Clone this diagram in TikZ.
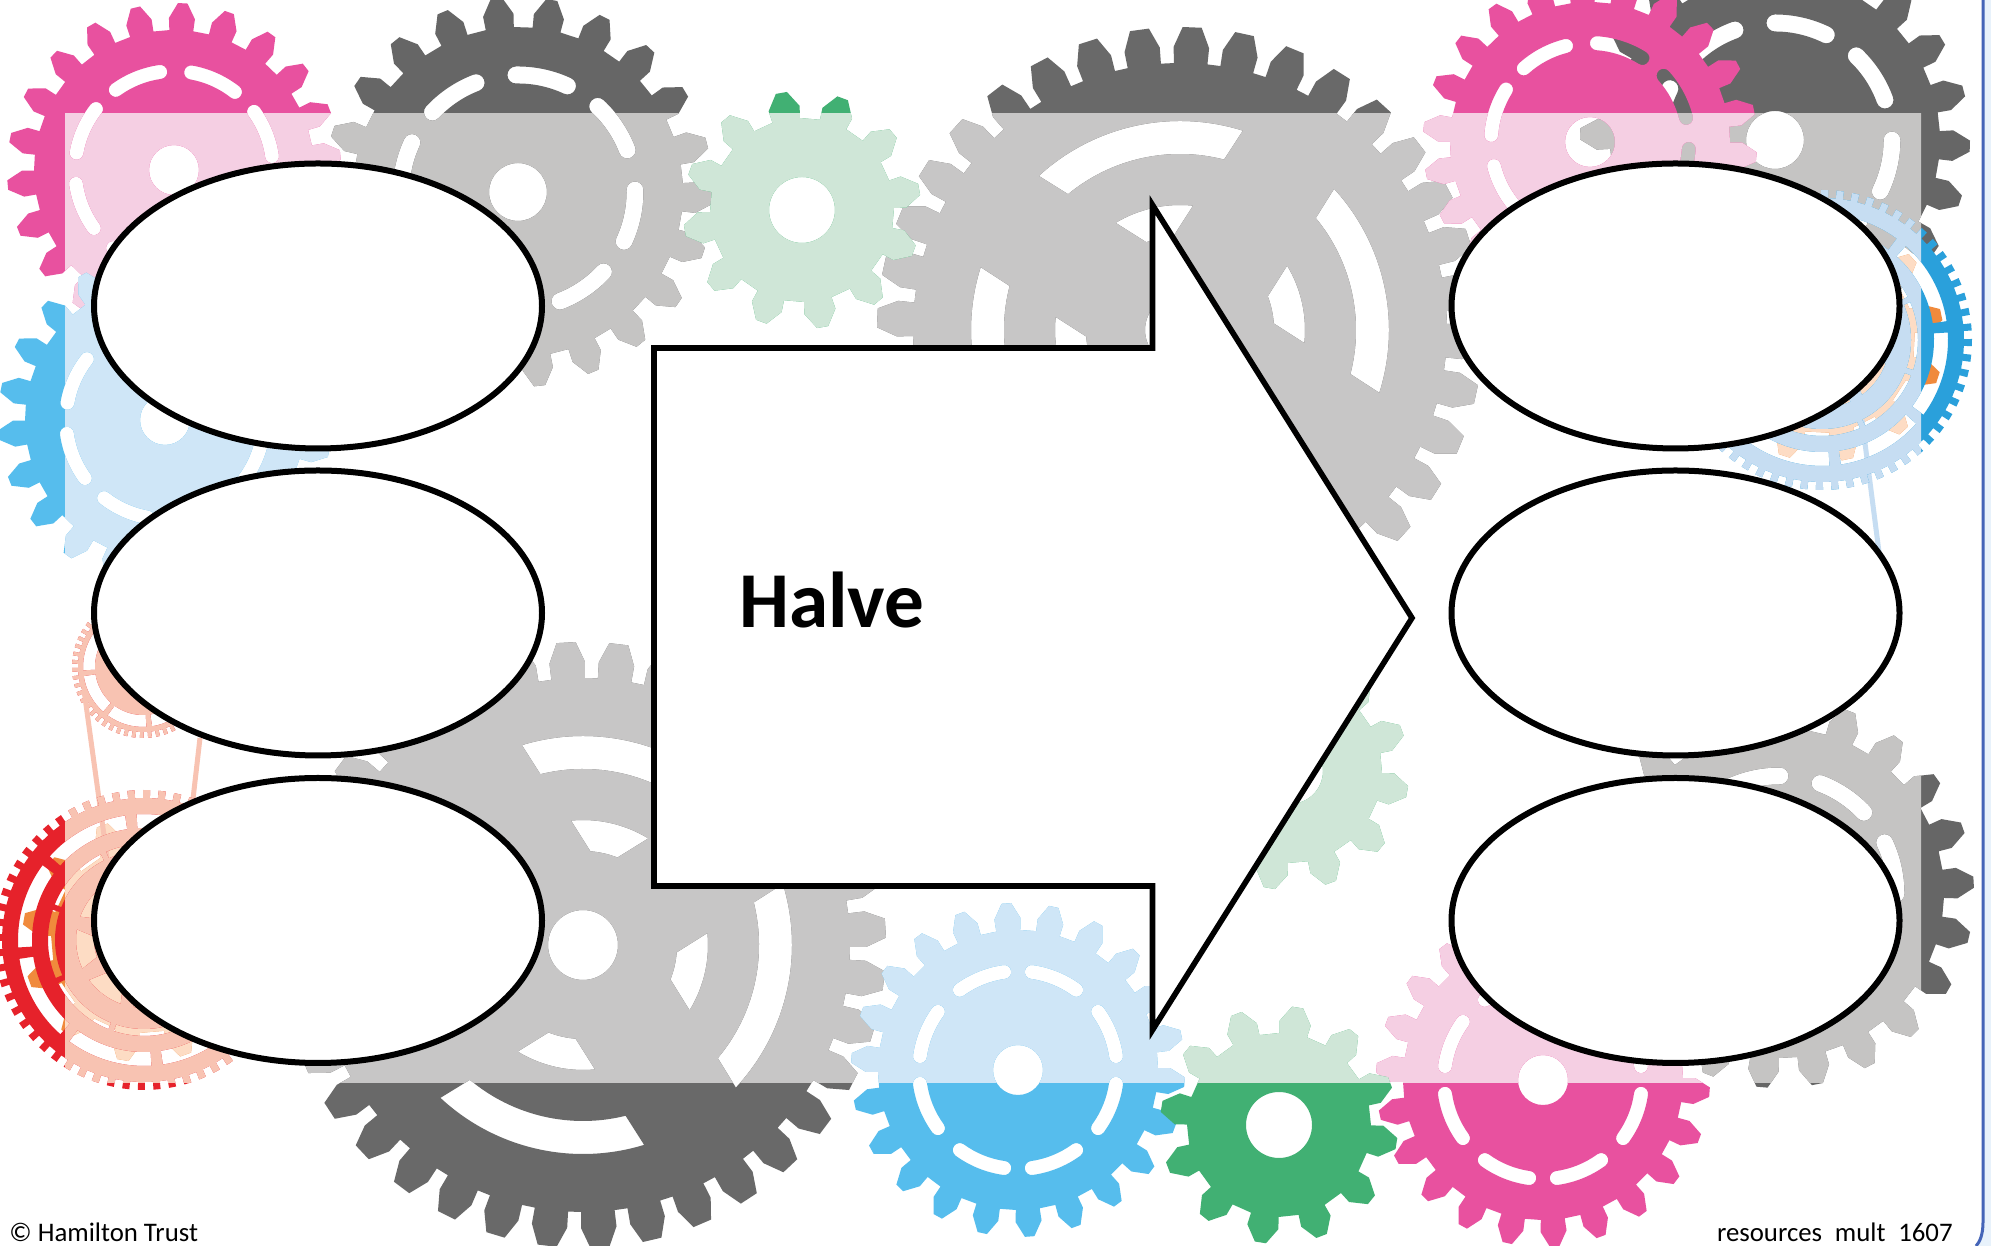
\documentclass[tikz,border=0pt]{standalone}
\usepackage{fontspec}
\setmainfont{Carlito}
\usetikzlibrary{shapes.geometric}
\definecolor{pinkD}{HTML}{E8519F}\definecolor{pinkL}{HTML}{F5CFE3}
\definecolor{greyD}{HTML}{666666}\definecolor{greyL}{HTML}{C5C4C3}
\definecolor{greyDb}{HTML}{696969}\definecolor{greyLb}{HTML}{C7C6C6}
\definecolor{blueD}{HTML}{56BDED}\definecolor{blueL}{HTML}{CFE6F7}
\definecolor{greenD}{HTML}{41B073}\definecolor{greenL}{HTML}{CFE6D7}
\definecolor{redD}{HTML}{E6222B}\definecolor{redL}{HTML}{F8C3B2}
\definecolor{wblueD}{HTML}{2AA0DB}\definecolor{wblueL}{HTML}{C6DDF2}
\definecolor{orD}{HTML}{F08A3C}\definecolor{orL}{HTML}{FDDCC4}
\definecolor{edgeB}{HTML}{4565B8}\definecolor{edgeL}{HTML}{E8F2FB}
\newcommand\setteeth[6]{\def\gR{#1}\def\gr{#2}\def\gn{#3}\def\goff{#4}\def\gb{#5}\def\gt{#6}%
  \pgfmathsetmacro\gp{360/#3}\pgfmathsetmacro\gs{#2+.45*(#1-#2)}}
\newcommand\teethpath{({90-\goff+\gb*\gp}:\gr)
  \foreach \k [evaluate=\k as \ta using {90-\goff-(\k-1)*\gp}] in {1,...,\gn}{
    -- ({\ta+\gb*\gp}:\gr) -- ({\ta+\gb*\gp}:\gs) -- ({\ta+\gt*\gp}:\gR)
    -- ({\ta-\gt*\gp}:\gR) -- ({\ta-\gb*\gp}:\gs) -- ({\ta-\gb*\gp}:\gr)} -- cycle}
% rounded dashes, in pairs
\newcommand\dashes{\foreach \c [evaluate=\c as \aone using {90-\gphi-\c-\ghs},
    evaluate=\c as \atwo using {90-\gphi-\c+\ghs}] in {0,44,90,134,180,224,270,314}{
    (\aone:{\gsr+\gw}) arc[start angle=\aone,end angle=\atwo,radius={\gsr+\gw}]
    arc[start angle=\atwo,end angle={\atwo+180},radius=\gw]
    arc[start angle=\atwo,end angle=\aone,radius={\gsr-\gw}]
    arc[start angle={\aone+180},end angle={\aone+360},radius=\gw] -- cycle}}
% ring segments: outer r, outer half angle, inner r, inner half angle, first centre, last index, pitch
\newcommand\wedges[7]{\foreach \k [evaluate=\k as \ac using {90-(#5)-\k*(#7)}] in {0,...,#6}{
    ({\ac-(#2)}:#1) arc[start angle={\ac-(#2)},end angle={\ac+(#2)},radius=#1]
    -- ({\ac+(#4)}:#3) arc[start angle={\ac+(#4)},end angle={\ac-(#4)},radius=#3] -- cycle}}
\newcommand\paint[4]{%
  \begin{scope}[shift={(#1,{1246-#2})}]\fill[#3,even odd rule] \teethpath \extras;\end{scope}
  \begin{scope}\clip (65,163) rectangle (1921,1132);
  \begin{scope}[shift={(#1,{1246-#2})}]\fill[#4,even odd rule] \teethpath \extras;\end{scope}\end{scope}}
% cx cy toothoffset phi dark light
\newcommand\pinkgear[6]{\setteeth{167}{140}{22}{#3}{.3}{.1}%
  \def\gphi{#4}\def\gsr{99}\def\gw{7}\def\ghs{14}%
  \def\extras{(0,0) circle[radius=25] \dashes}\paint{#1}{#2}{#5}{#6}}
\newcommand\darkgear[4]{\setteeth{195}{165}{22}{#3}{.3}{.1}%
  \def\gphi{#4}\def\gsr{117}\def\gw{8.5}\def\ghs{13}%
  \def\extras{(0,0) circle[radius=29] \dashes}\paint{#1}{#2}{greyD}{greyL}}
\newcommand\greengear[3]{\setteeth{119}{92}{12}{#3}{.29}{.09}%
  \def\extras{(0,0) circle[radius=33]}\paint{#1}{#2}{greenD}{greenL}}
\newcommand\biggear[4]{\setteeth{303}{267}{36}{#3}{.36}{.18}%
  \def\extras{(0,0) circle[radius=35] \wedges{209}{30}{176}{27}{#4}{3}{90} \wedges{125}{18.5}{94}{8.5}{#4}{3}{90}}%
  \paint{#1}{#2}{greyDb}{greyLb}}
\newcommand\wheelgear[4]{\setteeth{150}{142}{60}{1}{.23}{.23}%
  \def\extras{(0,0) circle[radius=25] \wedges{126}{19.9}{112}{19.9}{61.5}{7}{45}
     \wedges{96}{20.8}{89}{20.8}{42.5}{7}{45} \wedges{68}{17}{50}{12}{37}{7}{45}}%
  \paint{#1}{#2}{#3}{#4}}
\newcommand\minigear[4]{\setteeth{71}{65}{54}{1}{.23}{.23}%
  \def\extras{(0,0) circle[radius=14] \wedges{60}{19.8}{48}{19.8}{61.5}{7}{45}}%
  \paint{#1}{#2}{#3}{#4}}
\newcommand\ongear[3]{\setteeth{122}{93}{12}{#3}{.25}{.09}%
  \def\extras{(0,0) circle[radius=30]}\paint{#1}{#2}{orD}{orL}}
\tikzset{
  bubble/.style={ellipse,draw=black,fill=white,line width=3pt,inner sep=0pt,
    minimum width=224pt,minimum height=142.5pt},
  belt/.style={line width=2.5pt}
}
\begin{document}
\begin{tikzpicture}[x=0.5pt,y=0.5pt]
\useasboundingbox (0,0) rectangle (1991,1246);
\fill[white] (0,0) rectangle (1991,1246);
\begin{scope}
\clip (0,0) rectangle (1991,1246);
% grey gears
\darkgear{518}{192}{10}{12}
\darkgear{1775}{140}{10}{13}
\darkgear{1779}{893}{5}{33.5}
\biggear{1180}{330}{2.3}{-12.5}
\biggear{583}{945}{6.8}{13}
% coloured gears
\pinkgear{174}{170}{3}{24}{pinkD}{pinkL}
\pinkgear{165}{420}{3}{24}{blueD}{blueL}
\pinkgear{1018}{1070}{-4}{-22}{blueD}{blueL}
\pinkgear{1543}{1080}{-4}{-22}{pinkD}{pinkL}
\pinkgear{1590}{142}{-3}{18}{pinkD}{pinkL}
\greengear{802}{210}{-10}
\greengear{1279}{1125}{9}
\greengear{1290}{771}{10}
% belt wheels
\ongear{144}{940}{10}
\minigear{143}{667}{redD}{redL}
\draw[belt,redL] (84,{1246-690}) -- (107,{1246-857});
\draw[belt,redL] (200,{1246-738}) -- (186,{1246-860});
\wheelgear{144}{940}{redD}{redL}
\ongear{1822}{340}{18}
\draw[belt,wblueL] (1862,{1246-420}) -- (1880,{1246-560});
\wheelgear{1822}{340}{wblueD}{wblueL}
% page edge
\fill[edgeL] (1983,1246) -- (1983,24) .. controls (1983,12) and (1980,4) .. (1976,0) -- (1991,0) -- (1991,1246) -- cycle;
\draw[edgeB,line width=1.5pt] (1983,1246) -- (1983,24) .. controls (1983,12) and (1980,4) .. (1976,0);
\end{scope}
% arrow
\draw[black,fill=white,line width=2.8pt,miter limit=10]
  (654,{1246-348}) -- (1152.5,{1246-348}) -- (1152.5,{1246-205}) -- (1412,{1246-618})
  -- (1152.5,{1246-1030}) -- (1152.5,{1246-886}) -- (654,{1246-886}) -- cycle;
% ovals
\node[bubble] (a1) at (318,940) {};
\node[bubble] (a2) at (318,633) {};
\node[bubble] (a3) at (318,325.5) {};
\node[bubble] (b1) at (1675.5,940) {};
\node[bubble] (b2) at (1675.5,633) {};
\node[bubble] (b3) at (1675.5,325.5) {};
\node[inner sep=0pt,anchor=base west,font=\bfseries\fontsize{39.6}{48}\selectfont] (halve) at (739,618) {Halve};
\node[inner sep=0pt,anchor=base west,font=\fontsize{13.4}{16}\selectfont] (copy) at (9,4) {© Hamilton Trust};
\node[inner sep=0pt,anchor=base east,font=\fontsize{13.4}{16}\selectfont] (ref) at (1953,4) {resources\hspace{.25em} mult\hspace{.25em} 1607};
\end{tikzpicture}
\end{document}
